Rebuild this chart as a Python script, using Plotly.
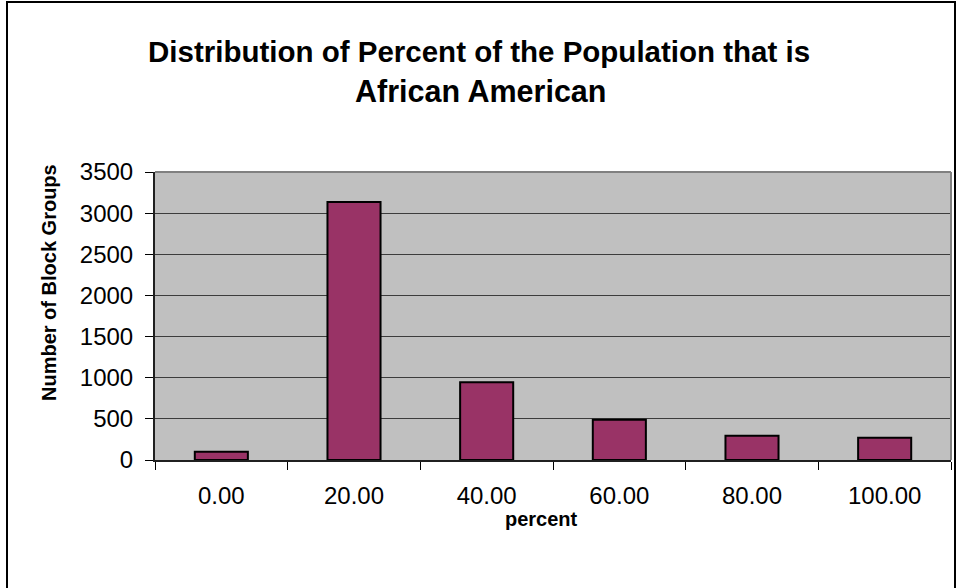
import plotly.graph_objects as go

# Histogram of block groups by percent African American population
categories = ["0.00", "20.00", "40.00", "60.00", "80.00", "100.00"]
block_groups = [100, 3135, 945, 490, 295, 270]
y_ticks = [0, 500, 1000, 1500, 2000, 2500, 3000, 3500]

title_lines = ["Distribution of Percent of the Population that is", "African American"]
y_title = "Number of Block Groups"
x_title = "percent"

W, H = 957, 588
# plot area in pixels
PL, PR, PT, PB = 155, 951, 172, 460
pw, ph = PR - PL, PB - PT


def px_x(x):
    return (x - PL) / pw


def px_y(y):
    return (PB - y) / ph


font_family = "Liberation Sans, Arial, sans-serif"

fig = go.Figure(
    go.Bar(
        x=categories,
        y=block_groups,
        marker=dict(color="#993366", line=dict(color="#000000", width=2)),
        showlegend=False,
    )
)

fig.update_layout(
    width=W,
    height=H,
    margin=dict(l=PL, r=W - PR, t=PT, b=H - PB, pad=0),
    paper_bgcolor="#ffffff",
    plot_bgcolor="#c0c0c0",
    bargap=0.6,
    font=dict(family=font_family, color="#000000"),
)

fig.update_yaxes(
    range=[0, 3500],
    tickvals=y_ticks,
    ticks="outside",
    ticklen=8,
    tickwidth=1,
    tickcolor="#000000",
    showgrid=True,
    gridcolor="#3c3c3c",
    gridwidth=1,
    showline=True,
    linecolor="#202020",
    linewidth=2,
    zeroline=False,
    tickfont=dict(size=24),
    ticklabelstandoff=7,
    title=None,
    fixedrange=True,
)

fig.update_xaxes(
    type="category",
    tickson="boundaries",
    ticks="outside",
    ticklen=8,
    tickwidth=1,
    tickcolor="#000000",
    showgrid=False,
    showline=True,
    linecolor="#202020",
    linewidth=2,
    tickfont=dict(size=24),
    ticklabelstandoff=13,
    title=None,
    fixedrange=True,
)

# Title lines and axis titles placed as annotations
annotations = [
    dict(text="<b>%s</b>" % title_lines[0], x=px_x(478.5), y=px_y(52),
         font=dict(size=29.5)),
    dict(text="<b>%s</b>" % title_lines[1], x=px_x(480), y=px_y(91),
         font=dict(size=30.5)),
    dict(text="<b>%s</b>" % y_title, x=px_x(49), y=px_y(283), textangle=-90,
         font=dict(size=20)),
    dict(text="<b>%s</b>" % x_title, x=px_x(541), y=px_y(519),
         font=dict(size=20)),
]
for a in annotations:
    a.update(xref="paper", yref="paper", xanchor="center", yanchor="middle",
             showarrow=False)
fig.update_layout(annotations=annotations)

shapes = [
    # gray top and right edges of the plot area
    dict(type="line", xref="paper", yref="paper", x0=0, x1=1, y0=1, y1=1,
         line=dict(color="#808080", width=2)),
    dict(type="line", xref="paper", yref="paper", x0=1, x1=1, y0=0, y1=1,
         line=dict(color="#808080", width=2)),
    # outer chart frame
    dict(type="rect", xref="paper", yref="paper",
         x0=px_x(7), x1=px_x(955), y0=px_y(610), y1=px_y(2),
         line=dict(color="#000000", width=2), fillcolor="rgba(0,0,0,0)",
         layer="above"),
]
fig.update_layout(shapes=shapes)

fig.write_html("out.html")
